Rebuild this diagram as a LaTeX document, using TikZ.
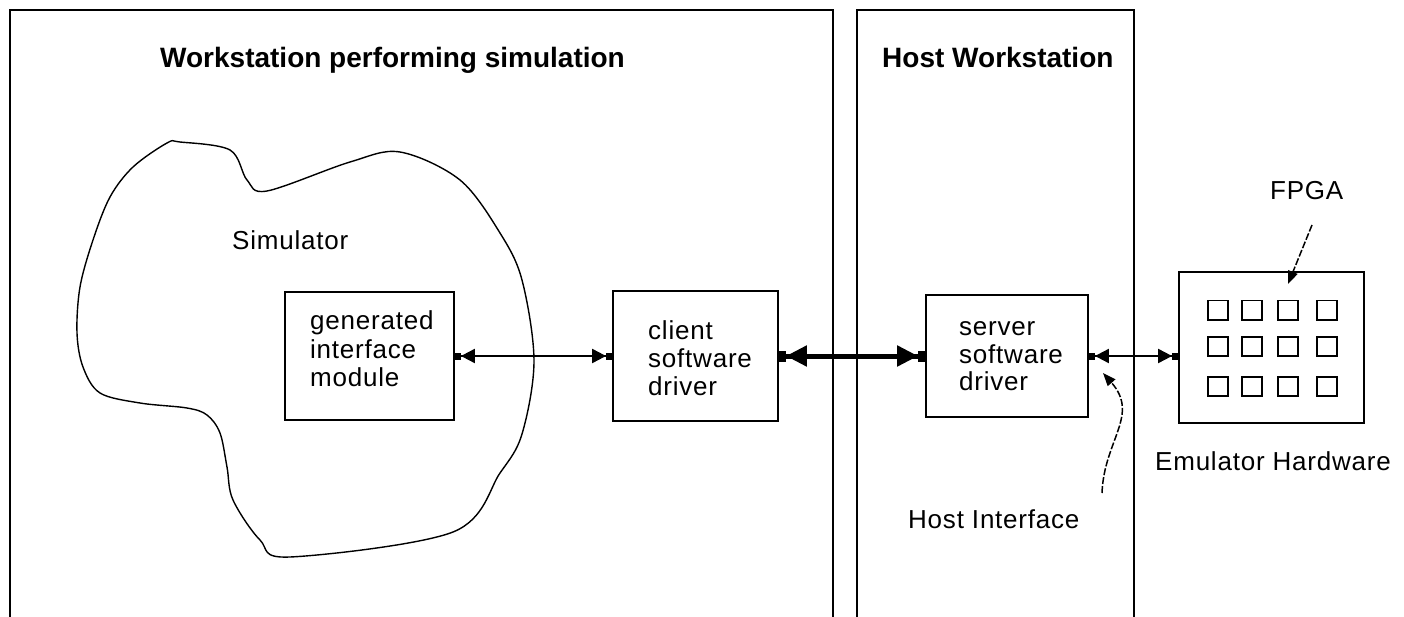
\documentclass[tikz,border=0pt]{standalone}
\usepackage{fontspec}
\setmainfont{Liberation Sans}
\newfontfamily\lblfont[LetterSpace=3]{Liberation Sans}
\usetikzlibrary{arrows.meta}

\tikzset{
  frame/.style={line width=2.2pt},
  box/.style={draw, line width=1.8pt, rectangle, inner sep=0pt},
  lbl/.style={anchor=base west, inner sep=0pt, font=\lblfont\fontsize{26}{28}\selectfont},
  head/.style={anchor=base west, inner sep=0pt, font=\fontsize{28}{30}\selectfont\bfseries},
  thintip/.tip={Triangle[length=14pt,width=14pt] Rectangle[length=6pt,width=7pt]},
  thicktip/.tip={Triangle[length=21pt,width=20pt] Rectangle[length=7pt,width=11pt]},
  link/.style={line width=2pt, {thintip}-{thintip}},
  biglink/.style={line width=5pt, {thicktip}-{thicktip}},
  pointer/.style={line width=1.5pt, dash pattern=on 7pt off 2pt, -{Triangle[length=13pt,width=10pt]}},
  chip/.style={draw, line width=1.5pt, minimum width=20pt, minimum height=19pt, inner sep=0pt, anchor=north west},
}

\begin{document}
\begin{tikzpicture}[x=1pt, y=-1pt]
\useasboundingbox (0,0) rectangle (1404,617);

% workstation frames (open at the bottom)
\draw[frame] (10,617) -- (10,10) -- (833,10) -- (833,617);
\draw[frame] (857,617) -- (857,10) -- (1134,10) -- (1134,617);

\node[head] (simtitle) at (160,68) {Workstation performing simulation};
\node[head] (hosttitle) at (882,68) {Host Workstation};

% simulator outline
\draw[line width=1.4pt] plot[smooth cycle, tension=0.55] coordinates {
  (180,142) (230,150) (247,180) (267,191) (350,162) (400,152) (460,180)
  (500,233) (522,280) (534,361) (522,434) (500,473) (453,532) (290,557)
  (260,540) (233,500) (227,467) (220,433) (207,415) (187,408) (140,403)
  (100,393) (83,367) (77,333) (80,287) (93,240) (110,197) (133,167) (167,143)};
\node[lbl] (simlabel) at (232,250) {Simulator};

% boxes
\node[box, minimum width=169pt, minimum height=128pt] (gen) at (369.5,356) {};
\node[box, minimum width=165pt, minimum height=130pt] (client) at (695.5,356) {};
\node[box, minimum width=162pt, minimum height=122pt] (server) at (1007,356) {};
\node[box, minimum width=185pt, minimum height=151pt] (board) at (1271.5,347.5) {};

\node[lbl] (gen1) at (310,330) {generated};
\node[lbl] (gen2) at (310,358) {interface};
\node[lbl] (gen3) at (310,386) {module};

\node[lbl] (cli1) at (648,339) {client};
\node[lbl] (cli2) at (648,367) {software};
\node[lbl] (cli3) at (648,395) {driver};

\node[lbl] (srv1) at (959,335) {server};
\node[lbl] (srv2) at (959,363) {software};
\node[lbl] (srv3) at (959,390) {driver};

% FPGA grid
\foreach \r/\yy in {1/300, 2/336, 3/376} {
  \foreach \c/\xx in {1/1207, 2/1241, 3/1277, 4/1316} {
    \node[chip] (chip-\r-\c) at (\xx,\yy) {};
  }
}

% connectors
\draw[link] (gen.east) -- (client.west);
\draw[biglink] (client.east) -- (server.west);
\draw[link] (server.east) -- (server.east -| board.west);

% labels with pointers
\node[lbl] (fpgalabel) at (1270,200) {FPGA};
\coordinate (fpgatail) at (1312,225);
\coordinate (fpgatip) at (1288,284);
\draw[pointer] (fpgatail) -- (fpgatip);

\node[lbl] (emulabel) at (1155,470) {Emulator Hardware};

\node[lbl] (hostif) at (908,528) {Host Interface};
\coordinate (hitail) at (1102,493);
\coordinate (hitip) at (1103,373);
\draw[pointer] (hitail) .. controls (1104,440) and (1140,415) .. (hitip);
\end{tikzpicture}
\end{document}
